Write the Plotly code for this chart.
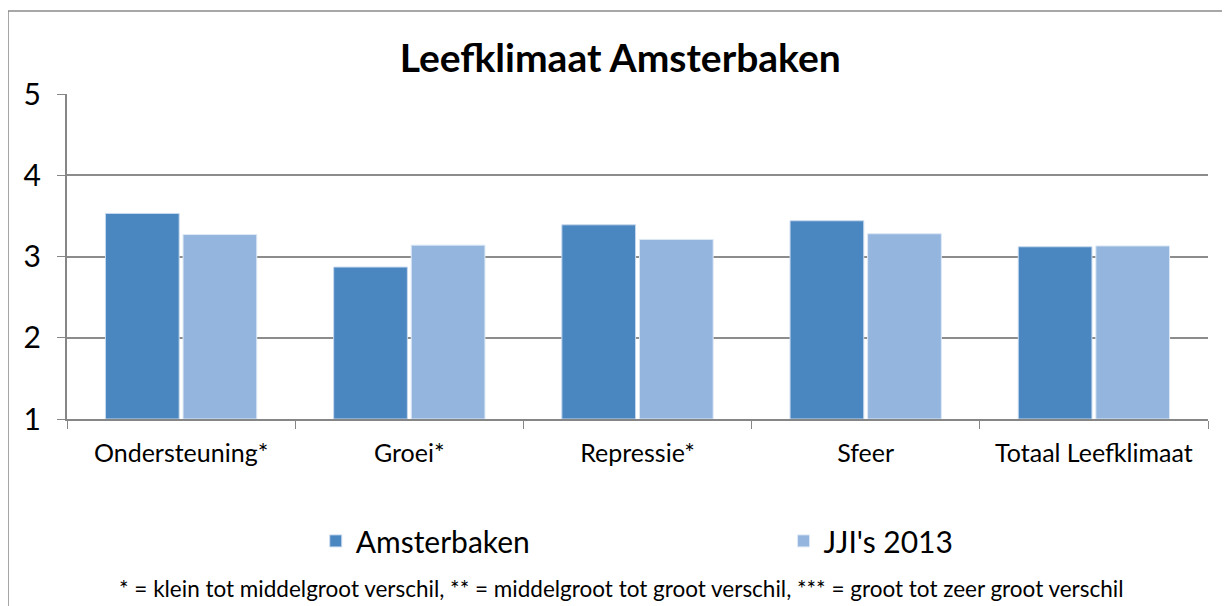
import plotly.graph_objects as go

categories = ["Ondersteuning*", "Groei*", "Repressie*", "Sfeer", "Totaal Leefklimaat"]
amsterbaken = [3.53, 2.87, 3.39, 3.44, 3.12]
jji_2013 = [3.27, 3.14, 3.21, 3.28, 3.13]
y_ticks = [1, 2, 3, 4, 5]
title_text = "Leefklimaat Amsterbaken"
footnote = "* = klein tot middelgroot verschil, ** = middelgroot tot groot verschil, *** = groot tot zeer groot verschil"

FONT = "Lato, Open Sans, sans-serif"

fig = go.Figure()
fig.add_trace(go.Bar(
    x=categories, y=[v - 1 for v in amsterbaken], base=1, name="Amsterbaken",
    marker=dict(color="#4a86c0", line=dict(color="#c8d9ee", width=1)), legend="legend",
))
fig.add_trace(go.Bar(
    x=categories, y=[v - 1 for v in jji_2013], base=1, name="JJI's 2013",
    marker=dict(color="#94b5de", line=dict(color="#dde8f5", width=1)), legend="legend2",
))

leg_common = dict(orientation="h", xanchor="left", y=-0.375, yanchor="middle",
                  font=dict(size=30, family=FONT), itemwidth=30, bgcolor="rgba(0,0,0,0)")

fig.update_layout(
    width=1222, height=598,
    margin=dict(l=59, r=22, t=86, b=187),
    paper_bgcolor="white", plot_bgcolor="white",
    barmode="group", bargap=0.32, bargroupgap=0.05,
    font=dict(family=FONT, color="#000000"),
    title=dict(text="<b>" + title_text + "</b>", x=0.501, xanchor="center",
               y=0.916, yanchor="middle", font=dict(size=39, family=FONT)),
    showlegend=True,
    legend=dict(x=0.218, **leg_common),
    legend2=dict(x=0.628, **leg_common),
    xaxis=dict(showline=True, linecolor="#868686", linewidth=2,
               ticks="outside", ticklen=8, tickcolor="#868686", tickwidth=1,
               tickson="boundaries", showgrid=False, ticklabelstandoff=11,
               tickfont=dict(size=25, family=FONT), fixedrange=True),
    yaxis=dict(range=[1, 5], tickvals=y_ticks, showline=True, linecolor="#868686", linewidth=2,
               ticks="outside", ticklen=8, tickcolor="#868686", ticklabelstandoff=10,
               showgrid=True, gridcolor="#8c8c8c", gridwidth=1.5,
               tickfont=dict(size=30, family=FONT), zeroline=False, fixedrange=True),
    shapes=[dict(type="rect", xref="paper", yref="paper",
                 x0=-0.0517, x1=1.0175, y0=-0.7, y1=1.2554,
                 line=dict(color="#8a8a8a", width=1.5), fillcolor="rgba(0,0,0,0)", layer="below")],
    annotations=[dict(text=footnote, xref="paper", yref="paper", x=0.4855, y=-0.52,
                      xanchor="center", yanchor="middle", showarrow=False,
                      font=dict(size=22.5, family=FONT))],
)

fig.write_html("out.html")
